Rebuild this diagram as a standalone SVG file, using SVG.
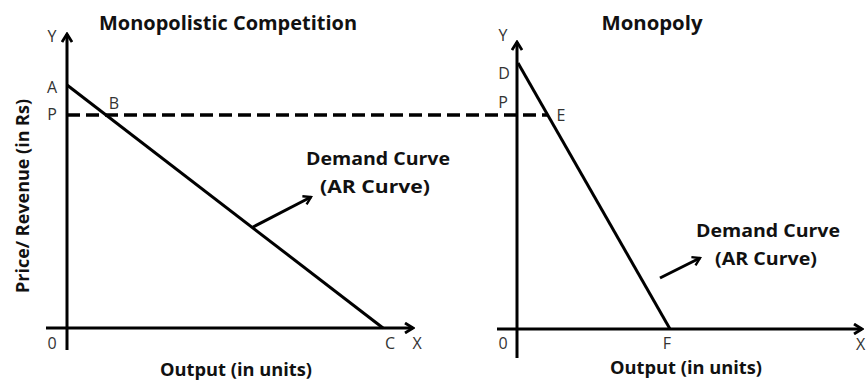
<svg xmlns="http://www.w3.org/2000/svg" width="866" height="380" viewBox="0 0 866 380">
<defs>
<marker id="chev" viewBox="0 0 12 12" refX="10" refY="6" markerWidth="12" markerHeight="12" markerUnits="userSpaceOnUse" orient="auto">
<path d="M2,1 L10,6 L2,11" fill="none" stroke="#000" stroke-width="2.8"/>
</marker>
<marker id="chevS" viewBox="0 0 12 12" refX="10" refY="6" markerWidth="11" markerHeight="11" markerUnits="userSpaceOnUse" orient="auto">
<path d="M2,1 L10,6 L2,11" fill="none" stroke="#000" stroke-width="2.6"/>
</marker>
</defs>
<style>
.ax{stroke:#000;stroke-width:3;fill:none}
.dl{stroke:#000;stroke-width:3;fill:none}
.pt{font-family:"Open Sans","Liberation Sans",sans-serif;font-size:16px;fill:#333}
.tt{font-family:"Open Sans","Liberation Sans",sans-serif;font-weight:bold;font-size:20px;fill:#111}
.lb{font-family:"Open Sans","Liberation Sans",sans-serif;font-weight:bold;font-size:18px;fill:#111}
</style>
<rect width="866" height="380" fill="#fff"/>

<g id="connectors">
<line x1="67" y1="115" x2="548" y2="115" stroke="#000" stroke-width="3.5" stroke-dasharray="13,6"/>
<line x1="253" y1="227" x2="311" y2="197" class="dl" stroke-width="2.6" marker-end="url(#chevS)"/>
<line x1="660" y1="278" x2="700" y2="258" class="dl" stroke-width="2.6" marker-end="url(#chevS)"/>
</g>

<g id="left-panel">
<text class="tt" x="228" y="30" text-anchor="middle" textLength="258" lengthAdjust="spacingAndGlyphs">Monopolistic Competition</text>
<line class="ax" x1="67" y1="350" x2="67" y2="34" marker-end="url(#chev)"/>
<line class="ax" x1="46" y1="328" x2="413" y2="328" marker-end="url(#chev)"/>
<line class="dl" x1="67" y1="85" x2="383" y2="328"/>
<text class="pt" x="52" y="42" text-anchor="middle">Y</text>
<text class="pt" x="52" y="93" text-anchor="middle">A</text>
<text class="pt" x="52" y="120" text-anchor="middle">P</text>
<text class="pt" x="114" y="109" text-anchor="middle">B</text>
<text class="pt" x="52" y="349" text-anchor="middle">0</text>
<text class="pt" x="390" y="349" text-anchor="middle">C</text>
<text class="pt" x="417" y="349" text-anchor="middle">X</text>
<text class="lb" x="236" y="376" text-anchor="middle" textLength="152" lengthAdjust="spacingAndGlyphs">Output (in units)</text>
<text class="lb" transform="translate(29,196) rotate(-90)" text-anchor="middle" textLength="194" lengthAdjust="spacingAndGlyphs">Price/ Revenue (in Rs)</text>
<text class="lb" x="378" y="165" text-anchor="middle" textLength="144" lengthAdjust="spacingAndGlyphs">Demand Curve</text>
<text class="lb" x="375" y="193" text-anchor="middle" textLength="110" lengthAdjust="spacingAndGlyphs">(AR Curve)</text>
</g>

<g id="right-panel">
<text class="tt" x="652" y="30" text-anchor="middle" textLength="101" lengthAdjust="spacingAndGlyphs">Monopoly</text>
<line class="ax" x1="517" y1="358" x2="517" y2="42" marker-end="url(#chev)"/>
<line class="ax" x1="497" y1="329" x2="862" y2="329" marker-end="url(#chev)"/>
<line class="dl" x1="518" y1="63" x2="670" y2="329"/>
<text class="pt" x="503" y="41" text-anchor="middle">Y</text>
<text class="pt" x="504" y="79" text-anchor="middle">D</text>
<text class="pt" x="503" y="108" text-anchor="middle">P</text>
<text class="pt" x="561" y="121" text-anchor="middle">E</text>
<text class="pt" x="503" y="349" text-anchor="middle">0</text>
<text class="pt" x="667" y="349" text-anchor="middle">F</text>
<text class="pt" x="856" y="350">X</text>
<text class="lb" x="686" y="374" text-anchor="middle" textLength="152" lengthAdjust="spacingAndGlyphs">Output (in units)</text>
<text class="lb" x="768" y="237" text-anchor="middle" textLength="144" lengthAdjust="spacingAndGlyphs">Demand Curve</text>
<text class="lb" x="766" y="265" text-anchor="middle" textLength="102" lengthAdjust="spacingAndGlyphs">(AR Curve)</text>
</g>
</svg>
